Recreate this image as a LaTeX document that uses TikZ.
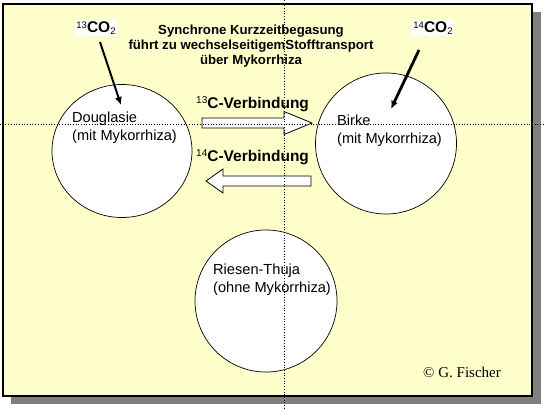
\documentclass[tikz,border=0pt]{standalone}
\usepackage{fontspec}
\usetikzlibrary{shapes.geometric,arrows.meta}
\setmainfont{Liberation Sans}
\newfontfamily\serifcopy{Liberation Serif}
\definecolor{bgyellow}{HTML}{FFFFCC}
\definecolor{shadowgray}{HTML}{808080}
\begin{document}
\begin{tikzpicture}[x=1pt,y=-1pt,
  tree/.style={draw=black,line width=0.7pt,fill=white},
  treetext/.style={anchor=west,align=left,font=\fontsize{14.6}{18}\selectfont,inner sep=0pt},
  co/.style={fill=white,inner sep=1.5pt,font=\fontsize{15.5}{16}\selectfont\bfseries},
  blockarrow/.style={draw=black,line width=0.8pt,fill=white},
  gas/.style={line width=2pt,-{Latex[length=8pt,width=7pt]}},
  dots/.style={draw=black,dotted,line width=0.7pt},
  verb/.style={font=\fontsize{15.5}{16}\selectfont\bfseries,inner sep=0pt}]
\useasboundingbox (0,0) rectangle (544,409);
% shadow and frame
\fill[shadowgray] (11,12) rectangle (541,404);
\filldraw[fill=bgyellow,draw=black,line width=1.3pt] (3,4) rectangle (532,396);
% trees
\node[tree,ellipse,minimum width=140pt,minimum height=133pt,inner sep=0pt] (doug) at (122,151) {};
\node[tree,circle,minimum size=141pt,inner sep=0pt] (birke) at (386,143.5) {};
\node[tree,circle,minimum size=142pt,inner sep=0pt] (thuja) at (266,301) {};
\node[treetext] (dougt) at (72,128) {Douglasie\\(mit Mykorrhiza)};
\node[treetext] (birket) at (337,131) {Birke\\(mit Mykorrhiza)};
\node[treetext] (thujat) at (213,280) {Riesen-Thuja\\(ohne Mykorrhiza)};
% title
\node[align=center,inner sep=0pt,font=\fontsize{13.2}{15.2}\selectfont\bfseries] (title) at (251,46) {Synchrone Kurzzeitbegasung\\führt zu wechselseitigemStofftransport\\über Mykorrhiza};
% CO2 labels
\node[co] (co13) at (96,28) {\textmd{\fontsize{9.5}{9.5}\selectfont\raisebox{4.5pt}{13}}CO\textmd{\fontsize{9.5}{9.5}\selectfont\raisebox{-2pt}{2}}};
\node[co] (co14) at (433,28) {\textmd{\fontsize{9.5}{9.5}\selectfont\raisebox{4.5pt}{14}}CO\textmd{\fontsize{9.5}{9.5}\selectfont\raisebox{-2pt}{2}}};
\coordinate (co13s) at (100,42);
\coordinate (co13e) at (121,105);
\coordinate (co14s) at (419,50);
\coordinate (co14e) at (391,109);
\draw[gas] (co13s) -- (co13e);
\draw[gas,line width=2.8pt] (co14s) -- (co14e);
% block arrows
\coordinate (ra) at (202,123);
\path[blockarrow] (ra) ++(0,-5) -- ++(82,0) -- ++(0,-6.5) -- (312,123) -- (284,134.5) -- ++(0,-6.5) -- ++(-82,0) -- cycle;
\coordinate (la) at (311,181);
\path[blockarrow] (la) ++(0,-5) -- (223,176) -- (223,169) -- (206,181) -- (223,193) -- (223,186) -- (311,186) -- cycle;
\node[verb,anchor=west] (v13) at (196,104) {\textmd{\fontsize{10}{10}\selectfont\raisebox{5pt}{13}}C-Verbindung};
\node[verb,anchor=west] (v14) at (196,157) {\textmd{\fontsize{10}{10}\selectfont\raisebox{5pt}{14}}C-Verbindung};
% copyright
\node[inner sep=0pt,font=\serifcopy\fontsize{15}{15}\selectfont] (copy) at (462,372) {© G. Fischer};
% dotted guide lines
\coordinate (hl) at (0,124);
\coordinate (hr) at (544,124);
\coordinate (vt) at (284,0);
\coordinate (vb) at (284,409);
\draw[dots] (hl) -- (hr);
\draw[dots] (vt) -- (vb);
\end{tikzpicture}
\end{document}
